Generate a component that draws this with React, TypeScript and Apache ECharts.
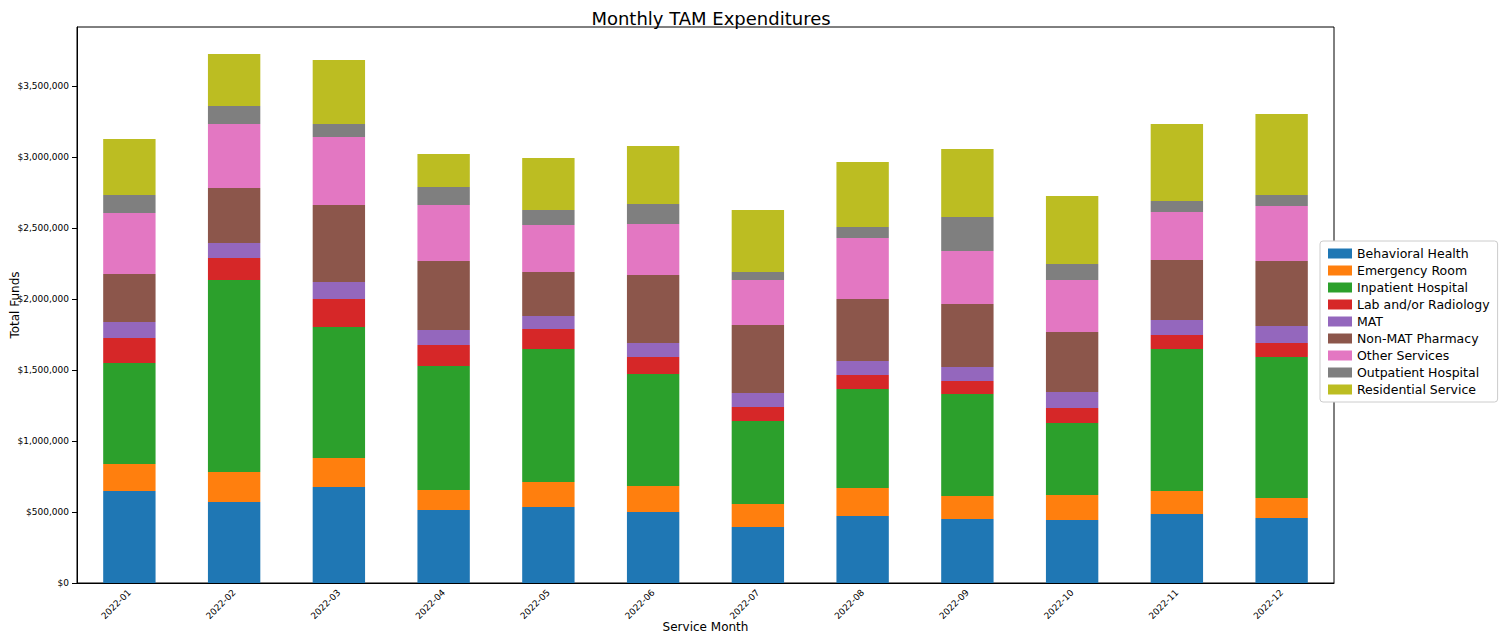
import { useEffect, useRef } from "react";
import * as echarts from "echarts";

const months = ["2022-01", "2022-02", "2022-03", "2022-04", "2022-05", "2022-06", "2022-07", "2022-08", "2022-09", "2022-10", "2022-11", "2022-12"];

// values in thousands of dollars
const behavioralHealth = [648, 570, 676, 514, 535, 500, 394, 472, 451, 444, 486, 458];
const emergencyRoom = [190, 212, 204, 141, 176, 183, 162, 197, 162, 176, 162, 141];
const inpatientHospital = [711, 1352, 923, 873, 937, 789, 585, 697, 718, 507, 1000, 993];
const labRadiology = [176, 155, 197, 148, 141, 120, 98, 99, 92, 105, 98, 98];
const mat = [113, 105, 120, 106, 91, 98, 99, 98, 98, 113, 106, 120];
const nonMatPharmacy = [338, 388, 542, 486, 310, 479, 479, 437, 444, 423, 423, 458];
const otherServices = [430, 450, 479, 394, 331, 359, 317, 430, 373, 366, 338, 387];
const outpatientHospital = [126, 127, 91, 127, 106, 141, 56, 77, 239, 112, 77, 77];
const residentialService = [395, 366, 451, 232, 366, 408, 437, 458, 479, 479, 542, 571];

const seriesList = [
    { name: "Behavioral Health", data: behavioralHealth, color: "#1f77b4" },
    { name: "Emergency Room", data: emergencyRoom, color: "#ff7f0e" },
    { name: "Inpatient Hospital", data: inpatientHospital, color: "#2ca02c" },
    { name: "Lab and/or Radiology", data: labRadiology, color: "#d62728" },
    { name: "MAT", data: mat, color: "#9467bd" },
    { name: "Non-MAT Pharmacy", data: nonMatPharmacy, color: "#8c564b" },
    { name: "Other Services", data: otherServices, color: "#e377c2" },
    { name: "Outpatient Hospital", data: outpatientHospital, color: "#7f7f7f" },
    { name: "Residential Service", data: residentialService, color: "#bcbd22" },
];

const fmt = (v: number) => "$" + v.toLocaleString("en-US");

const App = () => {
    const chartRef = useRef<HTMLDivElement>(null);

    useEffect(() => {
        document.body.style.margin = "0";
        if (!chartRef.current) return;
        const chart = echarts.init(chartRef.current, null, { renderer: "svg" });

        chart.setOption({
            animation: false,
            textStyle: { fontFamily: "DejaVu Sans" },
            title: {
                text: "Monthly TAM Expenditures",
                left: 706,
                top: 4,
                textAlign: "center",
                textStyle: { fontSize: 18, fontWeight: "normal", color: "#000" },
            },
            legend: {
                orient: "vertical",
                left: 1320,
                top: 241,
                padding: [6, 8],
                itemGap: 4,
                itemWidth: 24,
                itemHeight: 10,
                icon: "rect",
                backgroundColor: "#fff",
                borderColor: "#ccc",
                borderWidth: 1,
                borderRadius: 3,
                textStyle: { fontSize: 12.5, color: "#000" },
                data: seriesList.map((s) => s.name),
            },
            grid: {
                left: 77,
                top: 27,
                width: 1257,
                height: 556,
                show: true,
                borderColor: "#000",
                borderWidth: 1,
                containLabel: false,
                outerBoundsMode: "none",
            },
            xAxis: {
                type: "category",
                data: months,
                name: "Service Month",
                nameLocation: "middle",
                nameGap: 38,
                nameMoveOverlap: false,
                nameTextStyle: { fontSize: 12, color: "#000" },
                axisLine: { lineStyle: { color: "#000" } },
                axisTick: { alignWithLabel: true, lineStyle: { color: "#000" } },
                axisLabel: { rotate: 45, fontSize: 9, color: "#000", margin: 8 },
            },
            yAxis: {
                type: "value",
                min: 0,
                max: 3915000,
                interval: 500000,
                name: "Total Funds",
                nameLocation: "middle",
                nameGap: 62,
                nameMoveOverlap: false,
                nameTextStyle: { fontSize: 12, color: "#000", verticalAlign: "middle" },
                splitLine: { show: false },
                axisLine: { show: true, lineStyle: { color: "#000" } },
                axisTick: { show: true, lineStyle: { color: "#000" } },
                axisLabel: { fontSize: 9, color: "#000", showMaxLabel: false, formatter: fmt },
            },
            series: seriesList.map((s) => ({
                name: s.name,
                type: "bar",
                stack: "total",
                barWidth: "50%",
                itemStyle: { color: s.color },
                data: s.data.map((v) => v * 1000),
            })),
        });

        return () => {
            chart.dispose();
        };
    }, []);

    return <div ref={chartRef} style={{ width: "1504px", height: "636px" }} />;
};

export default App;
